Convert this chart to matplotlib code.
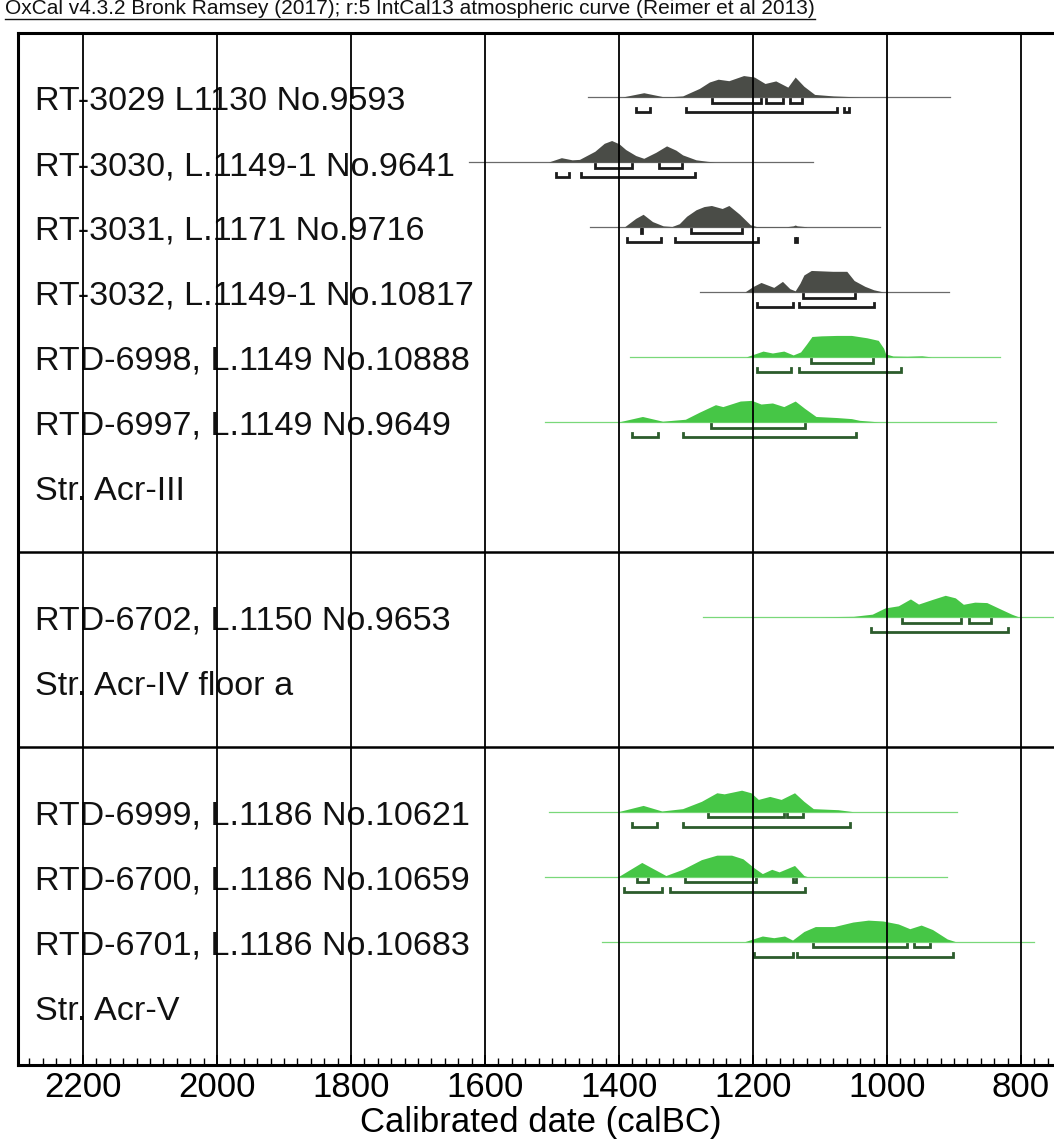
import matplotlib
matplotlib.use("Agg")
import matplotlib.pyplot as plt
from matplotlib.lines import Line2D
from matplotlib.ticker import MultipleLocator

plt.rcParams['font.family'] = ['Liberation Sans', 'DejaVu Sans']

# ---- data (years calBC, heights relative to peak) ----
row_labels = [
    "RT-3029 L1130 No.9593",
    "RT-3030, L.1149-1 No.9641",
    "RT-3031, L.1171 No.9716",
    "RT-3032, L.1149-1 No.10817",
    "RTD-6998, L.1149 No.10888",
    "RTD-6997, L.1149 No.9649",
    "Str. Acr-III",
    None,
    "RTD-6702, L.1150 No.9653",
    "Str. Acr-IV floor a",
    None,
    "RTD-6999, L.1186 No.10621",
    "RTD-6700, L.1186 No.10659",
    "RTD-6701, L.1186 No.10683",
    "Str. Acr-V",
]
separator_rows = [7, 10]

rt3029_yr = [1395, 1363, 1335, 1320, 1305, 1280, 1265, 1252, 1236, 1214, 1198, 1182, 1166, 1148, 1137, 1124, 1108, 1080, 1055, 1040]
rt3029_h = [0, .2, .02, .02, .05, .4, .7, .83, .76, 1.0, .93, .63, .75, .46, .93, .5, .12, .05, .02, 0]
rt3029_base = (1447, 906)
rt3029_r68 = [(1261, 1188), (1180, 1155), (1145, 1127)]
rt3029_r95 = [(1374, 1353), (1300, 1075), (1064, 1056)]

rt3030_yr = [1505, 1486, 1470, 1459, 1436, 1422, 1411, 1400, 1390, 1375, 1363, 1345, 1329, 1315, 1305, 1285, 1268, 1257]
rt3030_h = [0, .2, .1, .12, .5, .87, 1.0, .85, .58, .3, .17, .45, .75, .55, .33, .1, .03, 0]
rt3030_base = (1624, 1111)
rt3030_r68 = [(1436, 1381), (1340, 1306)]
rt3030_r95 = [(1494, 1475), (1456, 1287)]

rt3031_yr = [1392, 1375, 1364, 1350, 1334, 1321, 1310, 1299, 1285, 1273, 1262, 1246, 1236, 1220, 1204, 1195, 1150, 1140, 1137, 1134, 1120]
rt3031_h = [0, .4, .59, .25, .05, .02, .15, .5, .8, .95, 1.0, .86, 1.0, .59, .1, .02, .01, .05, .09, .05, .01]
rt3031_base = (1443, 1011)
rt3031_r68 = [(1367, 1365), (1293, 1217)]
rt3031_r95 = [(1388, 1337), (1316, 1192), (1137, 1134)]

rt3032_yr = [1212, 1200, 1188, 1169, 1156, 1145, 1137, 1130, 1124, 1113, 1081, 1060, 1049, 1033, 1020, 1006]
rt3032_h = [0, .25, .44, .21, .49, .15, .05, .4, .79, 1.0, .96, .96, .53, .26, .1, 0]
rt3032_base = (1279, 907)
rt3032_r68 = [(1125, 1048)]
rt3032_r95 = [(1194, 1141), (1131, 1019)]

rtd6998_yr = [1210, 1185, 1171, 1154, 1140, 1129, 1120, 1112, 1098, 1075, 1053, 1030, 1013, 1005, 1002, 991, 970, 948, 934]
rtd6998_h = [0, .27, .18, .27, .09, .23, .6, .95, .98, 1.0, 1.0, .89, .77, .4, .14, .04, .03, .05, 0]
rtd6998_base = (1384, 832)
rtd6998_r68 = [(1114, 1021)]
rtd6998_r95 = [(1194, 1143), (1132, 979)]

rtd6997_yr = [1400, 1365, 1335, 1301, 1280, 1256, 1245, 1219, 1202, 1188, 1171, 1154, 1137, 1123, 1106, 1075, 1053, 1041, 1013]
rtd6997_h = [0, .25, .03, .12, .45, .8, .71, .97, 1.0, .83, .88, .71, .97, .63, .25, .2, .15, .07, 0]
rtd6997_base = (1510, 838)
rtd6997_r68 = [(1263, 1123)]
rtd6997_r95 = [(1381, 1342), (1305, 1046)]

rtd6702_yr = [1100, 1050, 1022, 1003, 983, 965, 953, 933, 913, 898, 886, 869, 851, 834, 814, 804]
rtd6702_h = [0, .02, .12, .41, .51, .83, .59, .8, 1.0, .88, .58, .68, .66, .41, .12, 0]
rtd6702_base = (1275, 740)
rtd6702_r68 = [(978, 890), (878, 845)]
rtd6702_r95 = [(1024, 820)]

rtd6999_yr = [1401, 1364, 1336, 1305, 1277, 1254, 1243, 1217, 1203, 1192, 1175, 1158, 1138, 1124, 1110, 1073, 1051]
rtd6999_h = [0, .29, .03, .14, .48, .88, .83, 1.0, .88, .57, .71, .57, .88, .48, .14, .09, 0]
rtd6999_base = (1505, 895)
rtd6999_r68 = [(1267, 1154), (1149, 1126)]
rtd6999_r95 = [(1381, 1343), (1305, 1055)]

rtd6700_yr = [1401, 1366, 1330, 1305, 1277, 1254, 1232, 1215, 1198, 1186, 1172, 1161, 1138, 1124, 1119]
rtd6700_h = [0, .66, .05, .34, .79, 1.0, 1.0, .83, .4, .14, .34, .22, .52, .05, 0]
rtd6700_base = (1510, 911)
rtd6700_r68 = [(1373, 1357), (1302, 1195), (1141, 1136)]
rtd6700_r95 = [(1393, 1336), (1324, 1123)]

rtd6701_yr = [1212, 1186, 1169, 1153, 1141, 1124, 1107, 1079, 1051, 1028, 1006, 983, 966, 949, 932, 910, 898]
rtd6701_h = [0, .26, .18, .26, .07, .47, .7, .7, .91, 1.0, .96, .82, .6, .77, .56, .12, 0]
rtd6701_base = (1425, 781)
rtd6701_r68 = [(1110, 970), (960, 936)]
rtd6701_r95 = [(1198, 1141), (1134, 901)]

# (row, green?, years, heights, baseline extent, 68.2% ranges, 95.4% ranges)
samples = [
    (0, False, rt3029_yr, rt3029_h, rt3029_base, rt3029_r68, rt3029_r95),
    (1, False, rt3030_yr, rt3030_h, rt3030_base, rt3030_r68, rt3030_r95),
    (2, False, rt3031_yr, rt3031_h, rt3031_base, rt3031_r68, rt3031_r95),
    (3, False, rt3032_yr, rt3032_h, rt3032_base, rt3032_r68, rt3032_r95),
    (4, True, rtd6998_yr, rtd6998_h, rtd6998_base, rtd6998_r68, rtd6998_r95),
    (5, True, rtd6997_yr, rtd6997_h, rtd6997_base, rtd6997_r68, rtd6997_r95),
    (8, True, rtd6702_yr, rtd6702_h, rtd6702_base, rtd6702_r68, rtd6702_r95),
    (11, True, rtd6999_yr, rtd6999_h, rtd6999_base, rtd6999_r68, rtd6999_r95),
    (12, True, rtd6700_yr, rtd6700_h, rtd6700_base, rtd6700_r68, rtd6700_r95),
    (13, True, rtd6701_yr, rtd6701_h, rtd6701_base, rtd6701_r68, rtd6701_r95),
]

major_ticks = [2200, 2000, 1800, 1600, 1400, 1200, 1000, 800]

# ---- figure ----
W, H = 1054, 1147
fig = plt.figure(figsize=(W / 100, H / 100), dpi=100)
ax = fig.add_axes([18 / W, 82 / H, 1046 / W, 1032 / H])
ax.set_xlim(2297, 2297 - 1046 / 0.67)
ax.set_ylim(14.9, -0.985)

peak = 0.33      # peak height in row units
off68, off95, cap = 0.09, 0.235, 0.06

for row, green, yrs, hs, base, r68, r95 in samples:
    fill_c = '#46c646' if green else '#4a4c47'
    base_c = '#7ad87a' if green else '#6a6a6a'
    br_c = '#2c5c2c' if green else '#1c1c1c'
    ax.plot(base, [row, row], color=base_c, lw=0.9, zorder=2)
    ax.fill_between(yrs, row, [row - peak * h for h in hs], color=fill_c, lw=0, zorder=3)
    for off, ranges in ((off68, r68), (off95, r95)):
        yb = row + off
        for a, b in ranges:
            ax.plot([a, a, b, b], [yb - cap, yb, yb, yb - cap], color=br_c, lw=2.0,
                    solid_joinstyle='miter', zorder=4)

for i, lab in enumerate(row_labels):
    if lab:
        ax.text(17 / 1046, i + 0.07, lab, transform=ax.get_yaxis_transform(),
                fontsize=24.6, va='center', ha='left', color='#111111', zorder=3)

for r in separator_rows:
    ax.axhline(r, color='black', lw=1.8, zorder=6)
for t in major_ticks:
    ax.axvline(t, color='black', lw=1.3, zorder=6)

for s in ('top', 'left', 'bottom', 'right'):
    ax.spines[s].set_linewidth(2.2)
ax.set_yticks([])
ax.set_xticks(major_ticks)
ax.set_xticklabels([str(t) for t in major_ticks], fontsize=25)
ax.xaxis.set_minor_locator(MultipleLocator(20))
ax.tick_params(axis='x', which='major', direction='in', length=7, width=1.3, pad=4)
ax.tick_params(axis='x', which='minor', direction='in', length=5, width=1)
ax.set_xlabel("Calibrated date (calBC)", fontsize=25, labelpad=2)

# header line, squeezed to the width it has in the reference
title = fig.text(5 / W, 1 - 18 / H, "OxCal v4.3.2 Bronk Ramsey (2017); r:5 IntCal13 atmospheric curve (Reimer et al 2013)",
                 fontsize=12, ha='left', va='bottom', color='#111111',
                 family=['Liberation Sans Narrow', 'Liberation Sans'])
fig.canvas.draw()
tw = title.get_window_extent().width
title.set_fontsize(12 * 810 / tw)
fig.canvas.draw()
tw = title.get_window_extent().width
fig.add_artist(Line2D([5 / W, (5 + tw) / W], [1 - 19 / H, 1 - 19 / H], color='#111111', lw=1))

fig.savefig("out.png", dpi=100)
